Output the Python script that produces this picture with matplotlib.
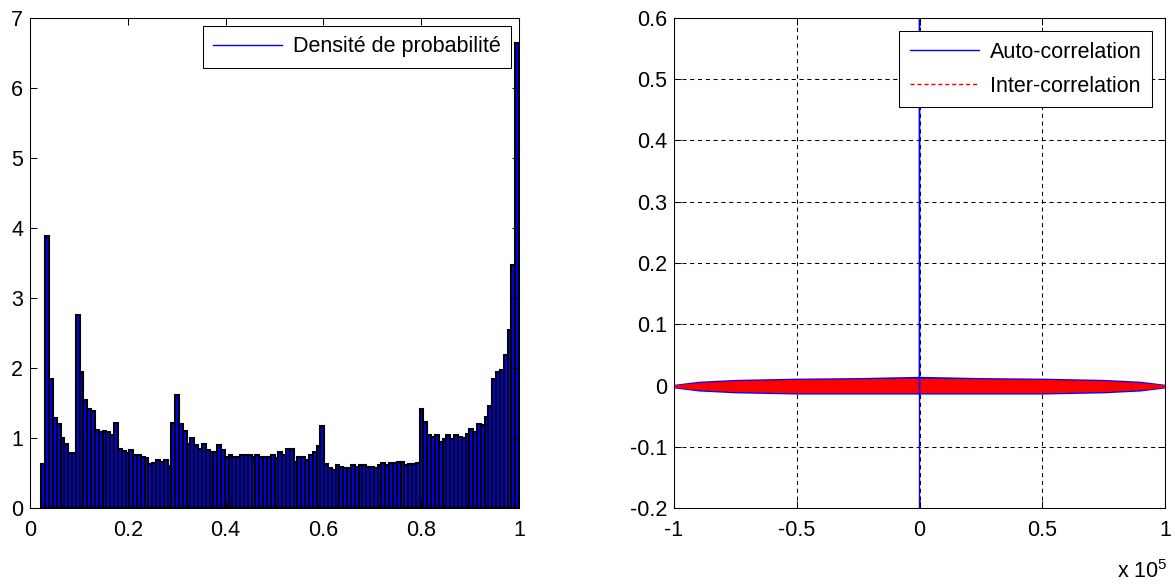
import numpy as np
import matplotlib.pyplot as plt
from matplotlib.lines import Line2D
from matplotlib.ticker import FuncFormatter

plt.rcParams["font.family"] = ["Liberation Sans", "DejaVu Sans"]
plt.rcParams["mathtext.fontset"] = "custom"
plt.rcParams["mathtext.rm"] = "Liberation Sans"
plt.rcParams["axes.unicode_minus"] = False

# histogram: 128 bins on [0, 1], first non-empty bin is bin 3
n_bins = 128
first_bin = 3
hist_vals = [
    0.63, 3.88, 1.85, 1.29, 1.20, 1.00, 0.92, 0.78, 0.78, 2.76,
    1.95, 1.55, 1.41, 1.39, 1.12, 1.08, 1.10, 1.08, 1.05, 1.22,
    0.85, 0.82, 0.78, 0.83, 0.76, 0.76, 0.73, 0.71, 0.63, 0.65,
    0.69, 0.66, 0.69, 0.60, 1.22, 1.61, 1.20, 1.10, 0.92, 1.00,
    0.90, 0.85, 0.92, 0.83, 0.80, 0.80, 0.90, 0.83, 0.73, 0.76,
    0.73, 0.73, 0.76, 0.76, 0.76, 0.73, 0.76, 0.73, 0.73, 0.73,
    0.76, 0.71, 0.80, 0.76, 0.85, 0.85, 0.66, 0.73, 0.73, 0.69,
    0.76, 0.80, 0.88, 1.17, 0.63, 0.57, 0.55, 0.61, 0.59, 0.57,
    0.57, 0.61, 0.59, 0.61, 0.61, 0.59, 0.59, 0.57, 0.61, 0.64,
    0.61, 0.64, 0.64, 0.66, 0.66, 0.61, 0.63, 0.63, 0.64, 1.42,
    1.23, 1.04, 1.01, 1.04, 0.94, 0.99, 1.04, 0.99, 1.04, 1.02,
    1.00, 1.06, 1.13, 1.09, 1.20, 1.18, 1.30, 1.46, 1.85, 1.94,
    1.97, 2.18, 2.54, 3.47, 6.65,
]

# correlations: envelope of the noise band
env_lags = [-1.0e5, -0.9e5, -0.75e5, -0.5e5, -0.25e5, 0.0,
            0.25e5, 0.5e5, 0.75e5, 0.9e5, 1.0e5]
auto_hi = [0.002, 0.007, 0.010, 0.012, 0.013, 0.015, 0.013, 0.012, 0.010, 0.007, 0.002]
auto_lo = [-0.004, -0.009, -0.012, -0.014, -0.014, -0.014, -0.014, -0.014, -0.012, -0.009, -0.004]
inter_hi = [0.001, 0.005, 0.008, 0.010, 0.011, 0.012, 0.011, 0.010, 0.008, 0.005, 0.001]
inter_lo = [-0.003, -0.007, -0.010, -0.012, -0.012, -0.012, -0.012, -0.012, -0.010, -0.007, -0.003]
spike_lags = [-1, 0, 1]
spike_vals = [0.0, 1.0, -1.0]

fig = plt.figure(figsize=(11.75, 5.86), dpi=100)
fs = 15.5

# left: density histogram
ax1 = fig.add_axes([30 / 1175, 78 / 586, 489 / 1175, 490 / 586])
w = 1.0 / n_bins
centers = (np.arange(len(hist_vals)) + first_bin + 0.5) * w
ax1.bar(centers, hist_vals, width=w, color="#0000f0", edgecolor="black", linewidth=1.5)
ax1.set_xlim(0, 1)
ax1.set_ylim(0, 7)
ax1.set_xticks([0, 0.2, 0.4, 0.6, 0.8, 1])
ax1.set_yticks(range(8))
ax1.xaxis.set_major_formatter(FuncFormatter(lambda v, p: "%g" % v))
leg1 = ax1.legend([Line2D([], [], color="blue", lw=1)], ["Densité de probabilité"],
                  loc="upper right", fontsize=fs, fancybox=False, framealpha=1,
                  edgecolor="black", handlelength=3.2, handletextpad=0.5,
                  borderpad=0.5, borderaxespad=0.35)
leg1.get_frame().set_linewidth(0.75)

# right: auto- and inter-correlation
ax2 = fig.add_axes([674 / 1175, 78 / 586, 491 / 1175, 490 / 586])
ax2.set_axisbelow(True)
ax2.fill_between(env_lags, auto_lo, auto_hi, color="blue", lw=0)
ax2.plot(spike_lags, spike_vals, color="blue", lw=1.0)
ax2.fill_between(env_lags, inter_lo, inter_hi, color="red", lw=0)
ax2.set_xlim(-1e5, 1e5)
ax2.set_ylim(-0.2, 0.6)
ax2.set_xticks([-1e5, -0.5e5, 0, 0.5e5, 1e5])
ax2.set_yticks(np.arange(-0.2, 0.61, 0.1))
ax2.xaxis.set_major_formatter(FuncFormatter(lambda v, p: "%g" % (v / 1e5)))
ax2.yaxis.set_major_formatter(FuncFormatter(lambda v, p: "%g" % round(v, 1)))
ax2.grid(True, color="black", linestyle=(0, (4, 3.5)), linewidth=0.75)
handles = [Line2D([], [], color="blue", lw=1),
           Line2D([], [], color="red", lw=1, linestyle=(0, (3, 2)))]
leg2 = ax2.legend(handles, ["Auto-correlation", "Inter-correlation"],
                  loc="upper right", fontsize=fs, fancybox=False, framealpha=1,
                  edgecolor="black", handlelength=3.2, handletextpad=0.5,
                  borderpad=0.5, labelspacing=0.6, borderaxespad=0.6)
leg2.get_frame().set_linewidth(0.75)
fig.text(1168 / 1175, 1 - 572 / 586, r"x 10$^5$", ha="right", va="center", fontsize=fs)

for ax in (ax1, ax2):
    ax.tick_params(direction="in", top=True, right=True, length=5,
                   width=0.75, labelsize=fs)
    ax.tick_params(axis="x", pad=9)
    ax.tick_params(axis="y", pad=5)
    for s in ax.spines.values():
        s.set_linewidth(0.75)

plt.savefig("out.png", dpi=100)
